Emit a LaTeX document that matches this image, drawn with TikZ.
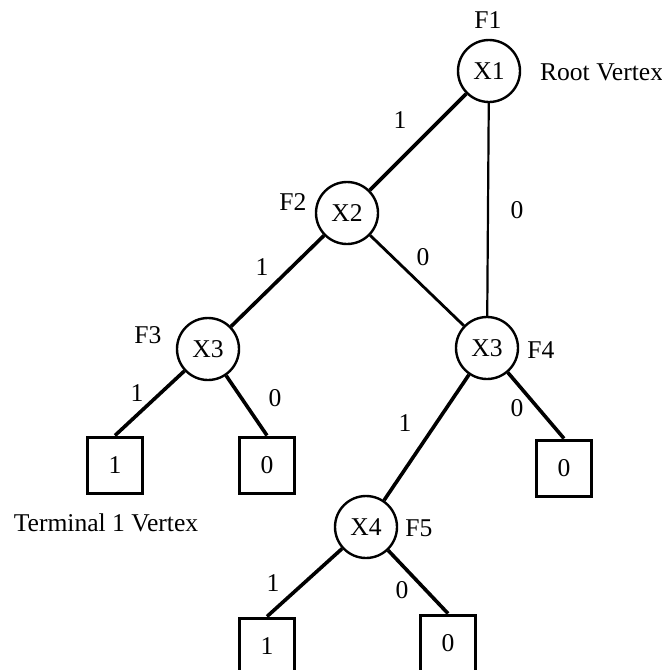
\documentclass[tikz,border=0pt]{standalone}
\usepackage{fontspec}
\setmainfont{Liberation Serif}

\tikzset{
  vertex/.style={draw,circle,line width=1.2pt,minimum size=31pt,inner sep=0pt},
  terminal/.style={draw,rectangle,line width=1.5pt,minimum width=27.5pt,minimum height=28pt,inner sep=0pt},
  edge/.style={line width=1.8pt},
  lbl/.style={inner sep=1pt}
}

\begin{document}
\begin{tikzpicture}[x=0.5pt,y=-0.5pt,every node/.style={font=\fontsize{12.8}{15}\selectfont}]
\useasboundingbox (0,0) rectangle (661,670);
\clip (0,0) rectangle (661,670);
% decision vertices
\node[vertex] (X1) at (489,71) {X1};
\node[vertex] (X2) at (347,213) {X2};
\node[vertex] (X3a) at (208,349) {X3};
\node[vertex] (X3b) at (487,348) {X3};
\node[vertex] (X4) at (366,527) {X4};
% terminal vertices
\node[terminal] (T1a) at (115,465) {1};
\node[terminal] (T0a) at (267,465) {0};
\node[terminal] (T0b) at (564,468) {0};
\node[terminal] (T1b) at (267,646) {1};
\node[terminal] (T0c) at (448,643) {0};
% function names
\node (F1) at (488,20) {F1};
\node (F2) at (293,202) {F2};
\node (F3) at (148,335) {F3};
\node (F4) at (541,350) {F4};
\node (F5) at (419,528) {F5};
\node[anchor=west] (root) at (533,72) {Root Vertex};
\node (term) at (106,523) {Terminal 1 Vertex};
% edges
\draw[edge] (X1) -- (X2);
\draw[edge,line width=1.1pt] (X1) -- (X3b);
\draw[edge] (X2) -- (X3a);
\draw[edge,line width=1.4pt] (X2) -- (X3b);
\draw[edge] (X3a) -- (T1a.north);
\draw[edge] (X3a) -- (T0a.north);
\draw[edge] (X3b) -- (X4);
\draw[edge] (X3b) -- (T0b.north);
\draw[edge] (X4) -- (T1b.north);
\draw[edge] (X4) -- (T0c.north);
% edge values
\node[lbl] (e12) at (400,120) {1};
\node[lbl] (e13) at (517,210) {0};
\node[lbl] (e23a) at (262,267) {1};
\node[lbl] (e23b) at (423,257) {0};
\node[lbl] (e3a1) at (137,393) {1};
\node[lbl] (e3a0) at (275,398) {0};
\node[lbl] (e34) at (405,423) {1};
\node[lbl] (e3b0) at (517,408) {0};
\node[lbl] (e41) at (273,583) {1};
\node[lbl] (e40) at (402,590) {0};
\end{tikzpicture}
\end{document}
